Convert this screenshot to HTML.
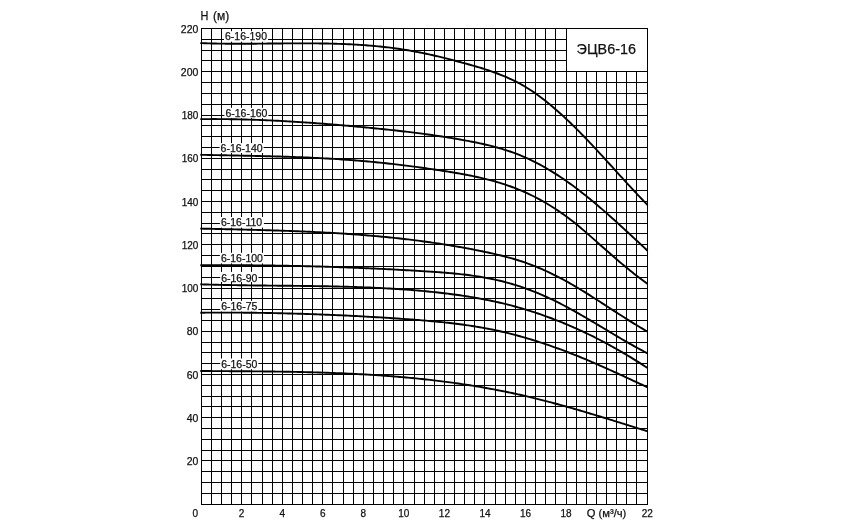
<!DOCTYPE html>
<html><head><meta charset="utf-8"><style>
html,body{margin:0;padding:0;background:#fff;}
body{width:853px;height:528px;overflow:hidden;}
svg{display:block;will-change:transform;}
text{font-family:"Liberation Sans",sans-serif;fill:#111;stroke:#111;stroke-width:0.25px;}
</style></head><body>
<svg width="853" height="528" viewBox="0 0 853 528">
<rect x="0" y="0" width="853" height="528" fill="#fff"/>
<path d="M201.5 28V505M211.5 28V505M221.5 28V505M231.5 28V505M241.5 28V505M251.5 28V505M262.5 28V505M272.5 28V505M282.5 28V505M292.5 28V505M302.5 28V505M312.5 28V505M322.5 28V505M332.5 28V505M343.5 28V505M353.5 28V505M363.5 28V505M373.5 28V505M383.5 28V505M393.5 28V505M403.5 28V505M414.5 28V505M424.5 28V505M434.5 28V505M444.5 28V505M454.5 28V505M464.5 28V505M474.5 28V505M484.5 28V505M495.5 28V505M505.5 28V505M515.5 28V505M525.5 28V505M535.5 28V505M545.5 28V505M555.5 28V505M566.5 28V505M576.5 28V505M586.5 28V505M596.5 28V505M606.5 28V505M616.5 28V505M626.5 28V505M636.5 28V505M647.5 28V505M201 504.5H648M201 493.5H648M201 482.5H648M201 471.5H648M201 460.5H648M201 450.5H648M201 439.5H648M201 428.5H648M201 417.5H648M201 406.5H648M201 396.5H648M201 385.5H648M201 374.5H648M201 363.5H648M201 352.5H648M201 342.5H648M201 331.5H648M201 320.5H648M201 309.5H648M201 298.5H648M201 288.5H648M201 277.5H648M201 266.5H648M201 255.5H648M201 244.5H648M201 233.5H648M201 223.5H648M201 212.5H648M201 201.5H648M201 190.5H648M201 179.5H648M201 169.5H648M201 158.5H648M201 147.5H648M201 136.5H648M201 125.5H648M201 115.5H648M201 104.5H648M201 93.5H648M201 82.5H648M201 71.5H648M201 60.5H648M201 50.5H648M201 39.5H648M201 28.5H648" stroke="#000" stroke-width="1" fill="none" shape-rendering="crispEdges"/>
<rect x="567" y="29" width="80" height="42" fill="#fff"/>
<text x="606.3" y="53.6" font-size="15.4" text-anchor="middle" textLength="59.4" lengthAdjust="spacingAndGlyphs">ЭЦВ6-16</text>
<rect x="224.0" y="31.2" width="44.0" height="10.5" fill="#fff"/>
<rect x="224.4" y="107.8" width="44.0" height="10.3" fill="#fff"/>
<rect x="219.6" y="143.1" width="44.0" height="9.9" fill="#fff"/>
<rect x="219.9" y="217.0" width="44.0" height="10.6" fill="#fff"/>
<rect x="219.9" y="252.8" width="44.0" height="10.6" fill="#fff"/>
<rect x="220.2" y="271.9" width="38.2" height="10.1" fill="#fff"/>
<rect x="220.2" y="300.9" width="38.2" height="10.6" fill="#fff"/>
<rect x="220.2" y="358.5" width="38.2" height="10.7" fill="#fff"/>
<path d="M200.3 43.10 L202.0 43.16 L204.0 43.23 L206.0 43.30 L208.0 43.36 L210.0 43.41 L212.0 43.46 L214.0 43.50 L216.0 43.54 L218.0 43.58 L220.0 43.61 L222.0 43.64 L224.0 43.67 L226.0 43.69 L228.0 43.70 L230.0 43.72 L232.0 43.73 L234.0 43.74 L236.0 43.74 L238.0 43.75 L240.0 43.75 L242.0 43.74 L244.0 43.74 L246.0 43.73 L248.0 43.73 L250.0 43.72 L252.0 43.70 L254.0 43.69 L256.0 43.68 L258.0 43.66 L260.0 43.64 L262.0 43.63 L264.0 43.61 L266.0 43.59 L268.0 43.57 L270.0 43.55 L272.0 43.53 L274.0 43.51 L276.0 43.49 L278.0 43.47 L280.0 43.46 L282.0 43.44 L284.0 43.42 L286.0 43.41 L288.0 43.39 L290.0 43.38 L292.0 43.37 L294.0 43.35 L296.0 43.35 L298.0 43.34 L300.0 43.33 L302.0 43.33 L304.0 43.33 L306.0 43.33 L308.0 43.34 L310.0 43.35 L312.0 43.36 L314.0 43.37 L316.0 43.39 L318.0 43.41 L320.0 43.43 L322.0 43.46 L324.0 43.49 L326.0 43.52 L328.0 43.56 L330.0 43.61 L332.0 43.66 L334.0 43.71 L336.0 43.77 L338.0 43.83 L340.0 43.90 L342.0 43.97 L344.0 44.05 L346.0 44.13 L348.0 44.22 L350.0 44.32 L352.0 44.42 L354.0 44.52 L356.0 44.64 L358.0 44.76 L360.0 44.88 L362.0 45.02 L364.0 45.16 L366.0 45.30 L368.0 45.46 L370.0 45.62 L372.0 45.79 L374.0 45.97 L376.0 46.15 L378.0 46.34 L380.0 46.54 L382.0 46.75 L384.0 46.97 L386.0 47.20 L388.0 47.43 L390.0 47.67 L392.0 47.93 L394.0 48.19 L396.0 48.46 L398.0 48.74 L400.0 49.03 L402.0 49.33 L404.0 49.64 L406.0 49.96 L408.0 50.29 L410.0 50.63 L412.0 50.98 L414.0 51.34 L416.0 51.71 L418.0 52.10 L420.0 52.49 L422.0 52.89 L424.0 53.30 L426.0 53.72 L428.0 54.15 L430.0 54.59 L432.0 55.04 L434.0 55.49 L436.0 55.96 L438.0 56.43 L440.0 56.91 L442.0 57.39 L444.0 57.88 L446.0 58.38 L448.0 58.88 L450.0 59.39 L452.0 59.91 L454.0 60.43 L456.0 60.96 L458.0 61.49 L460.0 62.02 L462.0 62.56 L464.0 63.11 L466.0 63.66 L468.0 64.21 L470.0 64.77 L472.0 65.33 L474.0 65.90 L476.0 66.48 L478.0 67.07 L480.0 67.67 L482.0 68.28 L484.0 68.91 L486.0 69.55 L488.0 70.20 L490.0 70.88 L492.0 71.57 L494.0 72.28 L496.0 73.01 L498.0 73.76 L500.0 74.53 L502.0 75.33 L504.0 76.15 L506.0 76.99 L508.0 77.87 L510.0 78.77 L512.0 79.70 L514.0 80.67 L516.0 81.66 L518.0 82.70 L520.0 83.77 L522.0 84.87 L524.0 86.02 L526.0 87.21 L528.0 88.44 L530.0 89.72 L532.0 91.03 L534.0 92.39 L536.0 93.78 L538.0 95.22 L540.0 96.69 L542.0 98.19 L544.0 99.73 L546.0 101.31 L548.0 102.92 L550.0 104.56 L552.0 106.23 L554.0 107.93 L556.0 109.67 L558.0 111.43 L560.0 113.21 L562.0 115.03 L564.0 116.87 L566.0 118.73 L568.0 120.62 L570.0 122.54 L572.0 124.47 L574.0 126.43 L576.0 128.41 L578.0 130.41 L580.0 132.43 L582.0 134.48 L584.0 136.53 L586.0 138.61 L588.0 140.70 L590.0 142.81 L592.0 144.94 L594.0 147.07 L596.0 149.22 L598.0 151.38 L600.0 153.55 L602.0 155.73 L604.0 157.92 L606.0 160.11 L608.0 162.31 L610.0 164.51 L612.0 166.71 L614.0 168.92 L616.0 171.12 L618.0 173.32 L620.0 175.52 L622.0 177.72 L624.0 179.91 L626.0 182.10 L628.0 184.28 L630.0 186.45 L632.0 188.61 L634.0 190.76 L636.0 192.90 L638.0 195.03 L640.0 197.14 L642.0 199.23 L644.0 201.31 L646.0 203.37 L647.6 205.01" stroke="#000" stroke-width="1.9" fill="none" stroke-linejoin="round"/>
<path d="M200.3 119.15 L202.0 119.13 L204.0 119.11 L206.0 119.10 L208.0 119.08 L210.0 119.08 L212.0 119.07 L214.0 119.07 L216.0 119.07 L218.0 119.08 L220.0 119.09 L222.0 119.11 L224.0 119.12 L226.0 119.14 L228.0 119.17 L230.0 119.20 L232.0 119.23 L234.0 119.26 L236.0 119.30 L238.0 119.34 L240.0 119.38 L242.0 119.43 L244.0 119.48 L246.0 119.54 L248.0 119.59 L250.0 119.65 L252.0 119.72 L254.0 119.78 L256.0 119.85 L258.0 119.92 L260.0 120.00 L262.0 120.08 L264.0 120.16 L266.0 120.24 L268.0 120.33 L270.0 120.42 L272.0 120.51 L274.0 120.61 L276.0 120.71 L278.0 120.81 L280.0 120.91 L282.0 121.02 L284.0 121.12 L286.0 121.24 L288.0 121.35 L290.0 121.47 L292.0 121.58 L294.0 121.71 L296.0 121.83 L298.0 121.96 L300.0 122.08 L302.0 122.21 L304.0 122.35 L306.0 122.48 L308.0 122.62 L310.0 122.76 L312.0 122.90 L314.0 123.05 L316.0 123.19 L318.0 123.34 L320.0 123.49 L322.0 123.65 L324.0 123.80 L326.0 123.96 L328.0 124.12 L330.0 124.28 L332.0 124.44 L334.0 124.60 L336.0 124.77 L338.0 124.94 L340.0 125.11 L342.0 125.28 L344.0 125.45 L346.0 125.63 L348.0 125.80 L350.0 125.98 L352.0 126.16 L354.0 126.34 L356.0 126.53 L358.0 126.71 L360.0 126.90 L362.0 127.08 L364.0 127.27 L366.0 127.46 L368.0 127.65 L370.0 127.85 L372.0 128.04 L374.0 128.24 L376.0 128.44 L378.0 128.64 L380.0 128.84 L382.0 129.04 L384.0 129.25 L386.0 129.45 L388.0 129.66 L390.0 129.88 L392.0 130.09 L394.0 130.31 L396.0 130.53 L398.0 130.75 L400.0 130.98 L402.0 131.21 L404.0 131.44 L406.0 131.67 L408.0 131.91 L410.0 132.15 L412.0 132.40 L414.0 132.64 L416.0 132.89 L418.0 133.15 L420.0 133.41 L422.0 133.67 L424.0 133.93 L426.0 134.20 L428.0 134.48 L430.0 134.76 L432.0 135.04 L434.0 135.32 L436.0 135.62 L438.0 135.91 L440.0 136.21 L442.0 136.52 L444.0 136.82 L446.0 137.14 L448.0 137.46 L450.0 137.78 L452.0 138.11 L454.0 138.44 L456.0 138.78 L458.0 139.13 L460.0 139.48 L462.0 139.84 L464.0 140.20 L466.0 140.56 L468.0 140.94 L470.0 141.32 L472.0 141.71 L474.0 142.10 L476.0 142.51 L478.0 142.92 L480.0 143.35 L482.0 143.79 L484.0 144.24 L486.0 144.70 L488.0 145.17 L490.0 145.67 L492.0 146.17 L494.0 146.69 L496.0 147.23 L498.0 147.78 L500.0 148.36 L502.0 148.95 L504.0 149.56 L506.0 150.19 L508.0 150.84 L510.0 151.52 L512.0 152.22 L514.0 152.93 L516.0 153.68 L518.0 154.45 L520.0 155.24 L522.0 156.06 L524.0 156.91 L526.0 157.78 L528.0 158.68 L530.0 159.62 L532.0 160.57 L534.0 161.56 L536.0 162.57 L538.0 163.61 L540.0 164.68 L542.0 165.77 L544.0 166.88 L546.0 168.03 L548.0 169.20 L550.0 170.39 L552.0 171.61 L554.0 172.85 L556.0 174.12 L558.0 175.41 L560.0 176.72 L562.0 178.05 L564.0 179.41 L566.0 180.80 L568.0 182.20 L570.0 183.63 L572.0 185.07 L574.0 186.54 L576.0 188.03 L578.0 189.54 L580.0 191.07 L582.0 192.63 L584.0 194.20 L586.0 195.79 L588.0 197.40 L590.0 199.03 L592.0 200.67 L594.0 202.34 L596.0 204.02 L598.0 205.71 L600.0 207.42 L602.0 209.15 L604.0 210.89 L606.0 212.64 L608.0 214.40 L610.0 216.18 L612.0 217.96 L614.0 219.76 L616.0 221.56 L618.0 223.37 L620.0 225.19 L622.0 227.02 L624.0 228.86 L626.0 230.70 L628.0 232.54 L630.0 234.39 L632.0 236.24 L634.0 238.09 L636.0 239.95 L638.0 241.81 L640.0 243.67 L642.0 245.52 L644.0 247.38 L646.0 249.23 L647.6 250.72" stroke="#000" stroke-width="1.9" fill="none" stroke-linejoin="round"/>
<path d="M200.3 154.80 L202.0 154.84 L204.0 154.88 L206.0 154.92 L208.0 154.96 L210.0 155.00 L212.0 155.05 L214.0 155.09 L216.0 155.13 L218.0 155.17 L220.0 155.20 L222.0 155.24 L224.0 155.28 L226.0 155.32 L228.0 155.36 L230.0 155.40 L232.0 155.44 L234.0 155.48 L236.0 155.52 L238.0 155.56 L240.0 155.60 L242.0 155.64 L244.0 155.68 L246.0 155.72 L248.0 155.76 L250.0 155.81 L252.0 155.85 L254.0 155.89 L256.0 155.94 L258.0 155.99 L260.0 156.03 L262.0 156.08 L264.0 156.13 L266.0 156.18 L268.0 156.23 L270.0 156.28 L272.0 156.34 L274.0 156.39 L276.0 156.45 L278.0 156.50 L280.0 156.56 L282.0 156.62 L284.0 156.69 L286.0 156.75 L288.0 156.81 L290.0 156.88 L292.0 156.95 L294.0 157.02 L296.0 157.09 L298.0 157.17 L300.0 157.25 L302.0 157.32 L304.0 157.41 L306.0 157.49 L308.0 157.57 L310.0 157.66 L312.0 157.75 L314.0 157.85 L316.0 157.94 L318.0 158.04 L320.0 158.14 L322.0 158.24 L324.0 158.35 L326.0 158.46 L328.0 158.57 L330.0 158.68 L332.0 158.80 L334.0 158.92 L336.0 159.04 L338.0 159.17 L340.0 159.30 L342.0 159.43 L344.0 159.57 L346.0 159.71 L348.0 159.85 L350.0 159.99 L352.0 160.14 L354.0 160.30 L356.0 160.45 L358.0 160.61 L360.0 160.78 L362.0 160.95 L364.0 161.12 L366.0 161.29 L368.0 161.47 L370.0 161.66 L372.0 161.85 L374.0 162.04 L376.0 162.23 L378.0 162.43 L380.0 162.63 L382.0 162.84 L384.0 163.05 L386.0 163.27 L388.0 163.48 L390.0 163.71 L392.0 163.93 L394.0 164.16 L396.0 164.39 L398.0 164.63 L400.0 164.87 L402.0 165.11 L404.0 165.36 L406.0 165.61 L408.0 165.86 L410.0 166.12 L412.0 166.38 L414.0 166.65 L416.0 166.91 L418.0 167.18 L420.0 167.46 L422.0 167.74 L424.0 168.02 L426.0 168.30 L428.0 168.59 L430.0 168.88 L432.0 169.17 L434.0 169.47 L436.0 169.77 L438.0 170.07 L440.0 170.38 L442.0 170.69 L444.0 171.00 L446.0 171.31 L448.0 171.63 L450.0 171.95 L452.0 172.28 L454.0 172.61 L456.0 172.95 L458.0 173.29 L460.0 173.64 L462.0 174.00 L464.0 174.37 L466.0 174.74 L468.0 175.13 L470.0 175.52 L472.0 175.92 L474.0 176.34 L476.0 176.76 L478.0 177.20 L480.0 177.65 L482.0 178.11 L484.0 178.58 L486.0 179.07 L488.0 179.58 L490.0 180.10 L492.0 180.64 L494.0 181.19 L496.0 181.76 L498.0 182.34 L500.0 182.95 L502.0 183.57 L504.0 184.21 L506.0 184.88 L508.0 185.56 L510.0 186.26 L512.0 186.99 L514.0 187.73 L516.0 188.50 L518.0 189.30 L520.0 190.11 L522.0 190.95 L524.0 191.81 L526.0 192.70 L528.0 193.61 L530.0 194.55 L532.0 195.51 L534.0 196.50 L536.0 197.52 L538.0 198.57 L540.0 199.64 L542.0 200.74 L544.0 201.87 L546.0 203.03 L548.0 204.22 L550.0 205.44 L552.0 206.69 L554.0 207.96 L556.0 209.27 L558.0 210.61 L560.0 211.98 L562.0 213.37 L564.0 214.80 L566.0 216.25 L568.0 217.74 L570.0 219.25 L572.0 220.79 L574.0 222.36 L576.0 223.96 L578.0 225.60 L580.0 227.25 L582.0 228.93 L584.0 230.64 L586.0 232.36 L588.0 234.10 L590.0 235.85 L592.0 237.61 L594.0 239.38 L596.0 241.15 L598.0 242.93 L600.0 244.71 L602.0 246.48 L604.0 248.25 L606.0 250.02 L608.0 251.79 L610.0 253.55 L612.0 255.29 L614.0 257.03 L616.0 258.76 L618.0 260.48 L620.0 262.18 L622.0 263.87 L624.0 265.54 L626.0 267.20 L628.0 268.84 L630.0 270.47 L632.0 272.07 L634.0 273.66 L636.0 275.23 L638.0 276.79 L640.0 278.32 L642.0 279.83 L644.0 281.32 L646.0 282.78 L647.6 283.94" stroke="#000" stroke-width="1.9" fill="none" stroke-linejoin="round"/>
<path d="M200.3 228.60 L202.0 228.64 L204.0 228.68 L206.0 228.73 L208.0 228.77 L210.0 228.82 L212.0 228.87 L214.0 228.91 L216.0 228.96 L218.0 229.00 L220.0 229.05 L222.0 229.09 L224.0 229.14 L226.0 229.18 L228.0 229.23 L230.0 229.28 L232.0 229.32 L234.0 229.37 L236.0 229.42 L238.0 229.46 L240.0 229.51 L242.0 229.56 L244.0 229.61 L246.0 229.66 L248.0 229.71 L250.0 229.76 L252.0 229.81 L254.0 229.87 L256.0 229.92 L258.0 229.97 L260.0 230.03 L262.0 230.08 L264.0 230.14 L266.0 230.20 L268.0 230.26 L270.0 230.32 L272.0 230.38 L274.0 230.44 L276.0 230.50 L278.0 230.57 L280.0 230.63 L282.0 230.70 L284.0 230.77 L286.0 230.84 L288.0 230.91 L290.0 230.98 L292.0 231.06 L294.0 231.13 L296.0 231.21 L298.0 231.29 L300.0 231.37 L302.0 231.46 L304.0 231.54 L306.0 231.63 L308.0 231.72 L310.0 231.81 L312.0 231.90 L314.0 231.99 L316.0 232.09 L318.0 232.19 L320.0 232.29 L322.0 232.39 L324.0 232.49 L326.0 232.60 L328.0 232.71 L330.0 232.82 L332.0 232.94 L334.0 233.05 L336.0 233.17 L338.0 233.29 L340.0 233.42 L342.0 233.54 L344.0 233.67 L346.0 233.80 L348.0 233.94 L350.0 234.08 L352.0 234.22 L354.0 234.36 L356.0 234.50 L358.0 234.65 L360.0 234.80 L362.0 234.96 L364.0 235.12 L366.0 235.28 L368.0 235.44 L370.0 235.61 L372.0 235.78 L374.0 235.95 L376.0 236.13 L378.0 236.31 L380.0 236.49 L382.0 236.68 L384.0 236.87 L386.0 237.06 L388.0 237.26 L390.0 237.46 L392.0 237.66 L394.0 237.87 L396.0 238.08 L398.0 238.30 L400.0 238.52 L402.0 238.74 L404.0 238.97 L406.0 239.20 L408.0 239.43 L410.0 239.67 L412.0 239.92 L414.0 240.16 L416.0 240.41 L418.0 240.67 L420.0 240.93 L422.0 241.19 L424.0 241.46 L426.0 241.73 L428.0 242.01 L430.0 242.29 L432.0 242.58 L434.0 242.87 L436.0 243.16 L438.0 243.46 L440.0 243.76 L442.0 244.07 L444.0 244.39 L446.0 244.70 L448.0 245.03 L450.0 245.35 L452.0 245.69 L454.0 246.02 L456.0 246.37 L458.0 246.71 L460.0 247.06 L462.0 247.42 L464.0 247.78 L466.0 248.15 L468.0 248.52 L470.0 248.90 L472.0 249.29 L474.0 249.67 L476.0 250.07 L478.0 250.47 L480.0 250.87 L482.0 251.28 L484.0 251.70 L486.0 252.12 L488.0 252.55 L490.0 252.98 L492.0 253.42 L494.0 253.88 L496.0 254.34 L498.0 254.81 L500.0 255.29 L502.0 255.78 L504.0 256.29 L506.0 256.80 L508.0 257.34 L510.0 257.88 L512.0 258.45 L514.0 259.03 L516.0 259.62 L518.0 260.24 L520.0 260.87 L522.0 261.52 L524.0 262.20 L526.0 262.89 L528.0 263.61 L530.0 264.34 L532.0 265.10 L534.0 265.88 L536.0 266.68 L538.0 267.50 L540.0 268.35 L542.0 269.21 L544.0 270.09 L546.0 271.00 L548.0 271.92 L550.0 272.86 L552.0 273.82 L554.0 274.80 L556.0 275.81 L558.0 276.83 L560.0 277.86 L562.0 278.92 L564.0 280.00 L566.0 281.09 L568.0 282.20 L570.0 283.34 L572.0 284.48 L574.0 285.64 L576.0 286.82 L578.0 288.01 L580.0 289.22 L582.0 290.44 L584.0 291.66 L586.0 292.90 L588.0 294.15 L590.0 295.41 L592.0 296.68 L594.0 297.95 L596.0 299.23 L598.0 300.51 L600.0 301.80 L602.0 303.09 L604.0 304.39 L606.0 305.69 L608.0 306.99 L610.0 308.28 L612.0 309.58 L614.0 310.88 L616.0 312.17 L618.0 313.46 L620.0 314.75 L622.0 316.03 L624.0 317.31 L626.0 318.58 L628.0 319.84 L630.0 321.09 L632.0 322.34 L634.0 323.57 L636.0 324.79 L638.0 326.00 L640.0 327.20 L642.0 328.39 L644.0 329.56 L646.0 330.71 L647.6 331.62" stroke="#000" stroke-width="1.9" fill="none" stroke-linejoin="round"/>
<path d="M200.3 265.29 L202.0 265.28 L204.0 265.27 L206.0 265.26 L208.0 265.25 L210.0 265.24 L212.0 265.23 L214.0 265.22 L216.0 265.22 L218.0 265.21 L220.0 265.21 L222.0 265.21 L224.0 265.21 L226.0 265.21 L228.0 265.21 L230.0 265.21 L232.0 265.22 L234.0 265.22 L236.0 265.23 L238.0 265.24 L240.0 265.24 L242.0 265.25 L244.0 265.26 L246.0 265.28 L248.0 265.29 L250.0 265.30 L252.0 265.32 L254.0 265.33 L256.0 265.35 L258.0 265.37 L260.0 265.39 L262.0 265.41 L264.0 265.44 L266.0 265.46 L268.0 265.48 L270.0 265.51 L272.0 265.54 L274.0 265.57 L276.0 265.59 L278.0 265.63 L280.0 265.66 L282.0 265.69 L284.0 265.72 L286.0 265.76 L288.0 265.80 L290.0 265.84 L292.0 265.87 L294.0 265.91 L296.0 265.96 L298.0 266.00 L300.0 266.04 L302.0 266.09 L304.0 266.13 L306.0 266.18 L308.0 266.23 L310.0 266.28 L312.0 266.33 L314.0 266.39 L316.0 266.44 L318.0 266.49 L320.0 266.55 L322.0 266.61 L324.0 266.67 L326.0 266.73 L328.0 266.79 L330.0 266.85 L332.0 266.92 L334.0 266.98 L336.0 267.05 L338.0 267.11 L340.0 267.18 L342.0 267.25 L344.0 267.32 L346.0 267.40 L348.0 267.47 L350.0 267.55 L352.0 267.62 L354.0 267.70 L356.0 267.78 L358.0 267.86 L360.0 267.94 L362.0 268.02 L364.0 268.11 L366.0 268.19 L368.0 268.28 L370.0 268.37 L372.0 268.46 L374.0 268.55 L376.0 268.64 L378.0 268.73 L380.0 268.83 L382.0 268.92 L384.0 269.02 L386.0 269.12 L388.0 269.22 L390.0 269.32 L392.0 269.42 L394.0 269.53 L396.0 269.63 L398.0 269.74 L400.0 269.85 L402.0 269.96 L404.0 270.07 L406.0 270.18 L408.0 270.29 L410.0 270.40 L412.0 270.52 L414.0 270.64 L416.0 270.76 L418.0 270.88 L420.0 271.00 L422.0 271.12 L424.0 271.24 L426.0 271.37 L428.0 271.49 L430.0 271.62 L432.0 271.76 L434.0 271.89 L436.0 272.03 L438.0 272.17 L440.0 272.31 L442.0 272.47 L444.0 272.62 L446.0 272.78 L448.0 272.95 L450.0 273.12 L452.0 273.30 L454.0 273.49 L456.0 273.69 L458.0 273.89 L460.0 274.10 L462.0 274.32 L464.0 274.55 L466.0 274.79 L468.0 275.04 L470.0 275.30 L472.0 275.57 L474.0 275.86 L476.0 276.15 L478.0 276.46 L480.0 276.78 L482.0 277.12 L484.0 277.46 L486.0 277.83 L488.0 278.20 L490.0 278.59 L492.0 279.00 L494.0 279.42 L496.0 279.86 L498.0 280.31 L500.0 280.79 L502.0 281.28 L504.0 281.78 L506.0 282.30 L508.0 282.85 L510.0 283.40 L512.0 283.98 L514.0 284.58 L516.0 285.19 L518.0 285.82 L520.0 286.47 L522.0 287.14 L524.0 287.83 L526.0 288.53 L528.0 289.26 L530.0 290.00 L532.0 290.77 L534.0 291.55 L536.0 292.36 L538.0 293.19 L540.0 294.03 L542.0 294.90 L544.0 295.78 L546.0 296.68 L548.0 297.60 L550.0 298.53 L552.0 299.49 L554.0 300.46 L556.0 301.44 L558.0 302.44 L560.0 303.46 L562.0 304.49 L564.0 305.53 L566.0 306.59 L568.0 307.66 L570.0 308.74 L572.0 309.84 L574.0 310.94 L576.0 312.06 L578.0 313.19 L580.0 314.33 L582.0 315.47 L584.0 316.63 L586.0 317.79 L588.0 318.96 L590.0 320.14 L592.0 321.32 L594.0 322.51 L596.0 323.70 L598.0 324.89 L600.0 326.09 L602.0 327.29 L604.0 328.49 L606.0 329.68 L608.0 330.88 L610.0 332.08 L612.0 333.28 L614.0 334.47 L616.0 335.66 L618.0 336.84 L620.0 338.02 L622.0 339.20 L624.0 340.36 L626.0 341.52 L628.0 342.68 L630.0 343.82 L632.0 344.95 L634.0 346.08 L636.0 347.19 L638.0 348.29 L640.0 349.38 L642.0 350.46 L644.0 351.52 L646.0 352.57 L647.6 353.39" stroke="#000" stroke-width="1.9" fill="none" stroke-linejoin="round"/>
<path d="M200.3 284.31 L202.0 284.36 L204.0 284.43 L206.0 284.49 L208.0 284.55 L210.0 284.60 L212.0 284.66 L214.0 284.71 L216.0 284.76 L218.0 284.81 L220.0 284.86 L222.0 284.90 L224.0 284.95 L226.0 284.99 L228.0 285.03 L230.0 285.07 L232.0 285.10 L234.0 285.14 L236.0 285.17 L238.0 285.21 L240.0 285.24 L242.0 285.27 L244.0 285.30 L246.0 285.32 L248.0 285.35 L250.0 285.38 L252.0 285.40 L254.0 285.43 L256.0 285.45 L258.0 285.47 L260.0 285.50 L262.0 285.52 L264.0 285.54 L266.0 285.56 L268.0 285.58 L270.0 285.60 L272.0 285.62 L274.0 285.64 L276.0 285.66 L278.0 285.68 L280.0 285.70 L282.0 285.72 L284.0 285.74 L286.0 285.76 L288.0 285.78 L290.0 285.80 L292.0 285.82 L294.0 285.84 L296.0 285.86 L298.0 285.88 L300.0 285.91 L302.0 285.93 L304.0 285.95 L306.0 285.98 L308.0 286.00 L310.0 286.03 L312.0 286.06 L314.0 286.09 L316.0 286.12 L318.0 286.15 L320.0 286.18 L322.0 286.21 L324.0 286.25 L326.0 286.28 L328.0 286.32 L330.0 286.36 L332.0 286.40 L334.0 286.45 L336.0 286.49 L338.0 286.54 L340.0 286.58 L342.0 286.63 L344.0 286.69 L346.0 286.74 L348.0 286.80 L350.0 286.85 L352.0 286.91 L354.0 286.98 L356.0 287.04 L358.0 287.11 L360.0 287.18 L362.0 287.25 L364.0 287.33 L366.0 287.41 L368.0 287.49 L370.0 287.57 L372.0 287.66 L374.0 287.74 L376.0 287.84 L378.0 287.93 L380.0 288.03 L382.0 288.13 L384.0 288.24 L386.0 288.34 L388.0 288.46 L390.0 288.57 L392.0 288.69 L394.0 288.81 L396.0 288.94 L398.0 289.06 L400.0 289.20 L402.0 289.33 L404.0 289.47 L406.0 289.62 L408.0 289.77 L410.0 289.92 L412.0 290.07 L414.0 290.23 L416.0 290.40 L418.0 290.57 L420.0 290.74 L422.0 290.92 L424.0 291.10 L426.0 291.29 L428.0 291.48 L430.0 291.68 L432.0 291.88 L434.0 292.08 L436.0 292.29 L438.0 292.51 L440.0 292.73 L442.0 292.96 L444.0 293.20 L446.0 293.44 L448.0 293.68 L450.0 293.94 L452.0 294.19 L454.0 294.46 L456.0 294.73 L458.0 295.01 L460.0 295.30 L462.0 295.59 L464.0 295.89 L466.0 296.20 L468.0 296.52 L470.0 296.84 L472.0 297.17 L474.0 297.51 L476.0 297.86 L478.0 298.21 L480.0 298.58 L482.0 298.95 L484.0 299.33 L486.0 299.73 L488.0 300.13 L490.0 300.54 L492.0 300.96 L494.0 301.38 L496.0 301.82 L498.0 302.27 L500.0 302.73 L502.0 303.20 L504.0 303.68 L506.0 304.16 L508.0 304.66 L510.0 305.17 L512.0 305.70 L514.0 306.23 L516.0 306.77 L518.0 307.33 L520.0 307.89 L522.0 308.47 L524.0 309.06 L526.0 309.66 L528.0 310.27 L530.0 310.89 L532.0 311.53 L534.0 312.17 L536.0 312.83 L538.0 313.50 L540.0 314.18 L542.0 314.87 L544.0 315.58 L546.0 316.29 L548.0 317.02 L550.0 317.76 L552.0 318.51 L554.0 319.27 L556.0 320.04 L558.0 320.83 L560.0 321.62 L562.0 322.43 L564.0 323.25 L566.0 324.08 L568.0 324.93 L570.0 325.78 L572.0 326.65 L574.0 327.53 L576.0 328.42 L578.0 329.32 L580.0 330.24 L582.0 331.16 L584.0 332.10 L586.0 333.05 L588.0 334.01 L590.0 334.99 L592.0 335.97 L594.0 336.97 L596.0 337.98 L598.0 339.00 L600.0 340.03 L602.0 341.08 L604.0 342.14 L606.0 343.20 L608.0 344.28 L610.0 345.38 L612.0 346.48 L614.0 347.59 L616.0 348.72 L618.0 349.86 L620.0 351.01 L622.0 352.17 L624.0 353.34 L626.0 354.52 L628.0 355.72 L630.0 356.93 L632.0 358.14 L634.0 359.37 L636.0 360.61 L638.0 361.87 L640.0 363.13 L642.0 364.40 L644.0 365.69 L646.0 366.98 L647.6 368.03" stroke="#000" stroke-width="1.9" fill="none" stroke-linejoin="round"/>
<path d="M200.3 312.71 L202.0 312.70 L204.0 312.68 L206.0 312.66 L208.0 312.65 L210.0 312.64 L212.0 312.63 L214.0 312.62 L216.0 312.61 L218.0 312.61 L220.0 312.60 L222.0 312.60 L224.0 312.60 L226.0 312.60 L228.0 312.60 L230.0 312.61 L232.0 312.61 L234.0 312.62 L236.0 312.63 L238.0 312.64 L240.0 312.65 L242.0 312.67 L244.0 312.68 L246.0 312.70 L248.0 312.72 L250.0 312.74 L252.0 312.76 L254.0 312.78 L256.0 312.81 L258.0 312.83 L260.0 312.86 L262.0 312.89 L264.0 312.92 L266.0 312.96 L268.0 312.99 L270.0 313.03 L272.0 313.07 L274.0 313.11 L276.0 313.15 L278.0 313.19 L280.0 313.23 L282.0 313.28 L284.0 313.33 L286.0 313.37 L288.0 313.43 L290.0 313.48 L292.0 313.53 L294.0 313.59 L296.0 313.64 L298.0 313.70 L300.0 313.76 L302.0 313.82 L304.0 313.89 L306.0 313.95 L308.0 314.02 L310.0 314.08 L312.0 314.15 L314.0 314.22 L316.0 314.30 L318.0 314.37 L320.0 314.45 L322.0 314.52 L324.0 314.60 L326.0 314.68 L328.0 314.76 L330.0 314.85 L332.0 314.93 L334.0 315.02 L336.0 315.10 L338.0 315.19 L340.0 315.28 L342.0 315.38 L344.0 315.47 L346.0 315.57 L348.0 315.66 L350.0 315.76 L352.0 315.86 L354.0 315.96 L356.0 316.07 L358.0 316.17 L360.0 316.28 L362.0 316.38 L364.0 316.49 L366.0 316.60 L368.0 316.72 L370.0 316.83 L372.0 316.94 L374.0 317.06 L376.0 317.18 L378.0 317.30 L380.0 317.42 L382.0 317.54 L384.0 317.67 L386.0 317.79 L388.0 317.92 L390.0 318.05 L392.0 318.18 L394.0 318.31 L396.0 318.44 L398.0 318.57 L400.0 318.71 L402.0 318.85 L404.0 318.99 L406.0 319.13 L408.0 319.27 L410.0 319.41 L412.0 319.56 L414.0 319.71 L416.0 319.86 L418.0 320.01 L420.0 320.17 L422.0 320.33 L424.0 320.49 L426.0 320.66 L428.0 320.83 L430.0 321.01 L432.0 321.18 L434.0 321.37 L436.0 321.56 L438.0 321.75 L440.0 321.95 L442.0 322.15 L444.0 322.36 L446.0 322.57 L448.0 322.79 L450.0 323.02 L452.0 323.25 L454.0 323.49 L456.0 323.73 L458.0 323.99 L460.0 324.25 L462.0 324.51 L464.0 324.79 L466.0 325.07 L468.0 325.36 L470.0 325.66 L472.0 325.96 L474.0 326.28 L476.0 326.60 L478.0 326.94 L480.0 327.28 L482.0 327.63 L484.0 327.99 L486.0 328.36 L488.0 328.74 L490.0 329.13 L492.0 329.53 L494.0 329.94 L496.0 330.37 L498.0 330.80 L500.0 331.24 L502.0 331.70 L504.0 332.17 L506.0 332.64 L508.0 333.13 L510.0 333.63 L512.0 334.13 L514.0 334.65 L516.0 335.18 L518.0 335.72 L520.0 336.27 L522.0 336.83 L524.0 337.40 L526.0 337.97 L528.0 338.56 L530.0 339.16 L532.0 339.77 L534.0 340.38 L536.0 341.01 L538.0 341.64 L540.0 342.29 L542.0 342.94 L544.0 343.61 L546.0 344.28 L548.0 344.96 L550.0 345.65 L552.0 346.35 L554.0 347.05 L556.0 347.77 L558.0 348.49 L560.0 349.23 L562.0 349.97 L564.0 350.72 L566.0 351.47 L568.0 352.24 L570.0 353.01 L572.0 353.79 L574.0 354.58 L576.0 355.38 L578.0 356.19 L580.0 357.00 L582.0 357.82 L584.0 358.65 L586.0 359.48 L588.0 360.32 L590.0 361.17 L592.0 362.03 L594.0 362.89 L596.0 363.76 L598.0 364.63 L600.0 365.51 L602.0 366.40 L604.0 367.29 L606.0 368.18 L608.0 369.08 L610.0 369.99 L612.0 370.89 L614.0 371.80 L616.0 372.71 L618.0 373.63 L620.0 374.55 L622.0 375.47 L624.0 376.39 L626.0 377.32 L628.0 378.24 L630.0 379.17 L632.0 380.09 L634.0 381.02 L636.0 381.95 L638.0 382.87 L640.0 383.80 L642.0 384.72 L644.0 385.65 L646.0 386.57 L647.6 387.31" stroke="#000" stroke-width="1.9" fill="none" stroke-linejoin="round"/>
<path d="M200.3 371.01 L202.0 371.02 L204.0 371.03 L206.0 371.05 L208.0 371.06 L210.0 371.07 L212.0 371.08 L214.0 371.09 L216.0 371.10 L218.0 371.11 L220.0 371.12 L222.0 371.14 L224.0 371.15 L226.0 371.16 L228.0 371.17 L230.0 371.18 L232.0 371.19 L234.0 371.20 L236.0 371.22 L238.0 371.23 L240.0 371.24 L242.0 371.26 L244.0 371.27 L246.0 371.28 L248.0 371.30 L250.0 371.31 L252.0 371.33 L254.0 371.35 L256.0 371.37 L258.0 371.38 L260.0 371.40 L262.0 371.42 L264.0 371.44 L266.0 371.47 L268.0 371.49 L270.0 371.51 L272.0 371.54 L274.0 371.56 L276.0 371.59 L278.0 371.62 L280.0 371.64 L282.0 371.67 L284.0 371.71 L286.0 371.74 L288.0 371.77 L290.0 371.81 L292.0 371.84 L294.0 371.88 L296.0 371.92 L298.0 371.96 L300.0 372.01 L302.0 372.05 L304.0 372.10 L306.0 372.14 L308.0 372.19 L310.0 372.24 L312.0 372.30 L314.0 372.35 L316.0 372.41 L318.0 372.46 L320.0 372.52 L322.0 372.59 L324.0 372.65 L326.0 372.72 L328.0 372.78 L330.0 372.85 L332.0 372.93 L334.0 373.00 L336.0 373.08 L338.0 373.16 L340.0 373.24 L342.0 373.32 L344.0 373.41 L346.0 373.50 L348.0 373.59 L350.0 373.68 L352.0 373.78 L354.0 373.87 L356.0 373.98 L358.0 374.08 L360.0 374.19 L362.0 374.30 L364.0 374.41 L366.0 374.52 L368.0 374.64 L370.0 374.76 L372.0 374.88 L374.0 375.01 L376.0 375.14 L378.0 375.27 L380.0 375.41 L382.0 375.54 L384.0 375.69 L386.0 375.83 L388.0 375.98 L390.0 376.13 L392.0 376.29 L394.0 376.44 L396.0 376.60 L398.0 376.77 L400.0 376.94 L402.0 377.11 L404.0 377.28 L406.0 377.46 L408.0 377.65 L410.0 377.83 L412.0 378.02 L414.0 378.21 L416.0 378.41 L418.0 378.61 L420.0 378.82 L422.0 379.03 L424.0 379.24 L426.0 379.45 L428.0 379.68 L430.0 379.90 L432.0 380.13 L434.0 380.36 L436.0 380.60 L438.0 380.84 L440.0 381.08 L442.0 381.33 L444.0 381.59 L446.0 381.85 L448.0 382.11 L450.0 382.37 L452.0 382.65 L454.0 382.92 L456.0 383.20 L458.0 383.49 L460.0 383.78 L462.0 384.07 L464.0 384.37 L466.0 384.67 L468.0 384.98 L470.0 385.29 L472.0 385.61 L474.0 385.93 L476.0 386.26 L478.0 386.59 L480.0 386.93 L482.0 387.27 L484.0 387.62 L486.0 387.98 L488.0 388.33 L490.0 388.70 L492.0 389.06 L494.0 389.44 L496.0 389.82 L498.0 390.20 L500.0 390.59 L502.0 390.99 L504.0 391.39 L506.0 391.79 L508.0 392.20 L510.0 392.62 L512.0 393.04 L514.0 393.47 L516.0 393.90 L518.0 394.34 L520.0 394.79 L522.0 395.24 L524.0 395.70 L526.0 396.16 L528.0 396.63 L530.0 397.10 L532.0 397.58 L534.0 398.07 L536.0 398.56 L538.0 399.05 L540.0 399.56 L542.0 400.06 L544.0 400.58 L546.0 401.09 L548.0 401.61 L550.0 402.14 L552.0 402.67 L554.0 403.21 L556.0 403.74 L558.0 404.29 L560.0 404.84 L562.0 405.39 L564.0 405.94 L566.0 406.50 L568.0 407.07 L570.0 407.64 L572.0 408.21 L574.0 408.78 L576.0 409.36 L578.0 409.94 L580.0 410.52 L582.0 411.11 L584.0 411.70 L586.0 412.29 L588.0 412.88 L590.0 413.48 L592.0 414.08 L594.0 414.68 L596.0 415.29 L598.0 415.89 L600.0 416.50 L602.0 417.11 L604.0 417.73 L606.0 418.34 L608.0 418.95 L610.0 419.57 L612.0 420.19 L614.0 420.81 L616.0 421.43 L618.0 422.05 L620.0 422.67 L622.0 423.30 L624.0 423.92 L626.0 424.54 L628.0 425.17 L630.0 425.80 L632.0 426.42 L634.0 427.05 L636.0 427.67 L638.0 428.30 L640.0 428.92 L642.0 429.55 L644.0 430.17 L646.0 430.80 L647.6 431.30" stroke="#000" stroke-width="1.9" fill="none" stroke-linejoin="round"/>
<text x="225.0" y="40.2" font-size="10.5" fill="#111">6-16-190</text>
<text x="225.4" y="116.6" font-size="10.5" fill="#111">6-16-160</text>
<text x="220.6" y="151.5" font-size="10.5" fill="#111">6-16-140</text>
<text x="220.9" y="226.4" font-size="10.5" fill="#111">6-16-110</text>
<text x="220.9" y="261.9" font-size="10.5" fill="#111">6-16-100</text>
<text x="221.2" y="281.6" font-size="10.5" fill="#111">6-16-90</text>
<text x="221.2" y="310.4" font-size="10.5" fill="#111">6-16-75</text>
<text x="221.2" y="367.7" font-size="10.5" fill="#111">6-16-50</text>
<text x="198.3" y="464.93" font-size="10" text-anchor="end" textLength="11.62" lengthAdjust="spacingAndGlyphs">20</text>
<text x="198.3" y="421.72" font-size="10" text-anchor="end" textLength="11.62" lengthAdjust="spacingAndGlyphs">40</text>
<text x="198.3" y="378.51" font-size="10" text-anchor="end" textLength="11.62" lengthAdjust="spacingAndGlyphs">60</text>
<text x="198.3" y="335.30" font-size="10" text-anchor="end" textLength="11.62" lengthAdjust="spacingAndGlyphs">80</text>
<text x="198.3" y="292.09" font-size="10" text-anchor="end" textLength="16.63" lengthAdjust="spacingAndGlyphs">100</text>
<text x="198.3" y="248.88" font-size="10" text-anchor="end" textLength="16.63" lengthAdjust="spacingAndGlyphs">120</text>
<text x="198.3" y="205.67" font-size="10" text-anchor="end" textLength="16.63" lengthAdjust="spacingAndGlyphs">140</text>
<text x="198.3" y="162.46" font-size="10" text-anchor="end" textLength="16.63" lengthAdjust="spacingAndGlyphs">160</text>
<text x="198.3" y="119.25" font-size="10" text-anchor="end" textLength="16.63" lengthAdjust="spacingAndGlyphs">180</text>
<text x="198.3" y="76.04" font-size="10" text-anchor="end" textLength="17.43" lengthAdjust="spacingAndGlyphs">200</text>
<text x="198.3" y="32.83" font-size="10" text-anchor="end" textLength="17.43" lengthAdjust="spacingAndGlyphs">220</text>
<text x="195.30" y="516.5" font-size="10" text-anchor="middle">0</text>
<text x="241.60" y="516.5" font-size="10" text-anchor="middle">2</text>
<text x="282.16" y="516.5" font-size="10" text-anchor="middle">4</text>
<text x="322.72" y="516.5" font-size="10" text-anchor="middle">6</text>
<text x="363.28" y="516.5" font-size="10" text-anchor="middle">8</text>
<text x="403.84" y="516.5" font-size="10" text-anchor="middle">10</text>
<text x="444.40" y="516.5" font-size="10" text-anchor="middle">12</text>
<text x="484.96" y="516.5" font-size="10" text-anchor="middle">14</text>
<text x="525.52" y="516.5" font-size="10" text-anchor="middle">16</text>
<text x="566.08" y="516.5" font-size="10" text-anchor="middle">18</text>
<text x="647.20" y="516.5" font-size="10" text-anchor="middle">22</text>
<text x="606.5" y="517.1" font-size="11.2" text-anchor="middle">Q (м³/ч)</text>
<text x="200.5" y="19.95" font-size="12.6" textLength="7.9" lengthAdjust="spacingAndGlyphs">H</text>
<text x="213.1" y="19.95" font-size="12.6" textLength="16.2" lengthAdjust="spacingAndGlyphs">(м)</text>
</svg>
</body></html>
